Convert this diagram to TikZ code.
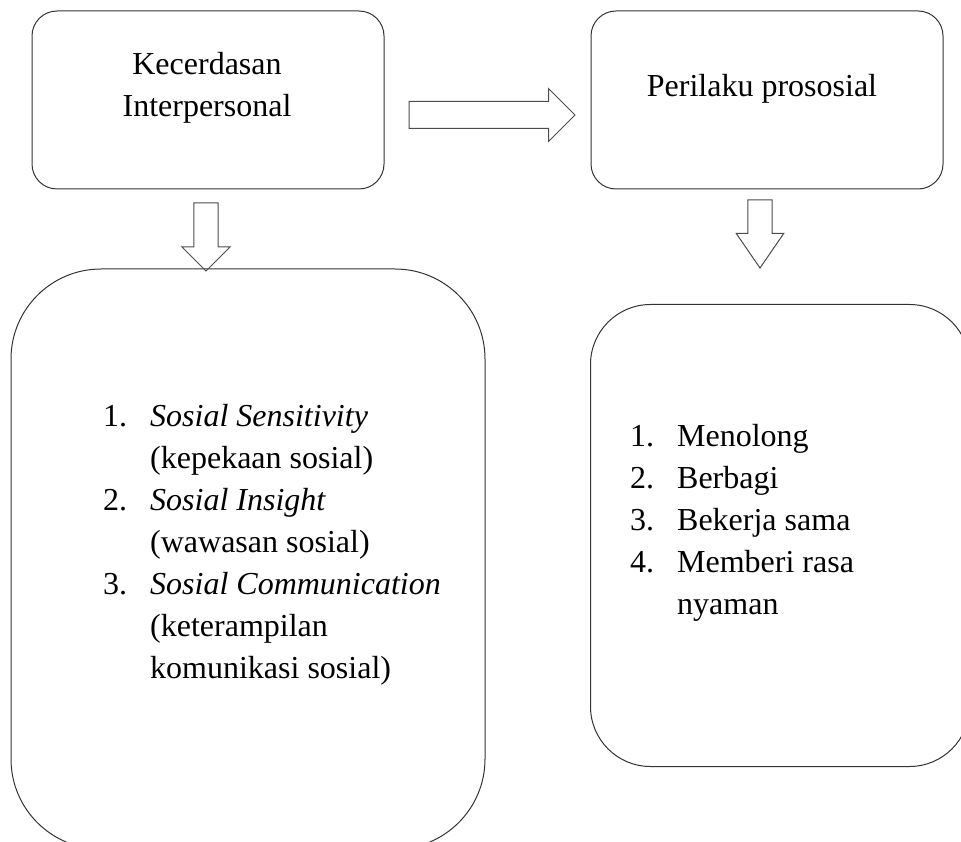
\documentclass[tikz,border=0pt]{standalone}
\usepackage{fontspec}
\setmainfont{Liberation Serif}
\usepackage{tikz}
\tikzset{
  box_font/.style = {font=\fontsize{32}{42}\selectfont},
  box_line/.style = {draw=black!80, line width=1pt}
}
\tikzset{
  top_box/.style = {box_line, inner sep=0, minimum width=352, minimum height=178, rounded corners=25},
  label/.style = {box_font, align=center, anchor=base, inner sep=0},
  list/.style = {box_font, align=left, anchor=base west, inner sep=0},
  fat_arrow/.style = {single arrow, draw=black!70, line width=1pt, inner xsep=0, anchor=tail}
}
\newcommand{\num}[1]{\makebox[47pt][l]{#1}}
\newcommand{\gap}{\hspace*{47pt}}
\usetikzlibrary{shapes.arrows, calc}

\begin{document}
\begin{tikzpicture}[x=1pt, y=-1pt]
    \clip (0,0) rectangle (961,842);

    % Boxes
    \node[top_box] at (208,100) (kec) {};
    \node[top_box] at (767,100) (pro) {};
    \node[box_line, inner sep=0, minimum width=474, minimum height=580, rounded corners=90] at (248,559) (kec_list) {};
    \node[box_line, inner sep=0, minimum width=379, minimum height=462, rounded corners=60] at (780,535.5) (pro_list) {};

    % Titles (base = last line)
    \node[label] at (207,117) (kec_title) {
        Kecerdasan\\
        Interpersonal
        };
    \node[label] at (766,97) (pro_title) {
        Perilaku prososial
        };

    % Lists
    \node[list] at (103,678) (kec_items) {
        \num{1.}\textit{Sosial Sensitivity}\\
        \gap(kepekaan sosial)\\
        \num{2.}\textit{Sosial Insight}\\
        \gap(wawasan sosial)\\
        \num{3.}\textit{Sosial Communication}\\
        \gap(keterampilan\\
        \gap komunikasi sosial)
        };
    \node[list] at (630,614) (pro_items) {
        \num{1.}Menolong\\
        \num{2.}Berbagi\\
        \num{3.}Bekerja sama\\
        \num{4.}Memberi rasa\\
        \gap nyaman
        };

    % Arrows
    \node[fat_arrow, inner ysep=13, single arrow head extend=13, minimum height=166, single arrow tip angle=90] at ([xshift=24, yshift=-15]kec.east) (kec_to_pro) {};
    \node[fat_arrow, rotate=-90, inner ysep=11.7, single arrow head extend=12, minimum height=68, single arrow tip angle=90] at ([xshift=-2, yshift=-13]kec.south) (kec_down) {};
    \node[fat_arrow, rotate=-90, inner ysep=11.7, single arrow head extend=11.6, minimum height=68, single arrow tip angle=69] at ([xshift=-7, yshift=-10]pro.south) (pro_down) {};
\end{tikzpicture}
\end{document}
